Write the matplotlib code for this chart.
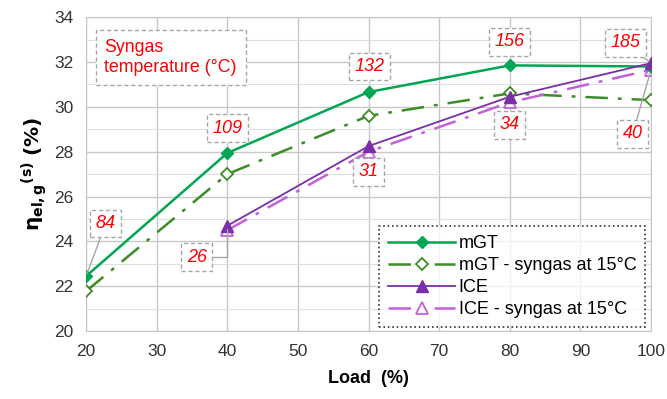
import matplotlib
matplotlib.use("Agg")
import matplotlib.pyplot as plt
from matplotlib.ticker import MultipleLocator

plt.rcParams['font.family'] = ['Liberation Sans', 'DejaVu Sans']

load = [20, 40, 60, 80, 100]
mgt = [22.45, 27.94, 30.66, 31.85, 31.8]
mgt15 = [21.78, 27.0, 29.6, 30.6, 30.3]
ice_load = [40, 60, 80, 100]
ice = [24.7, 28.25, 30.45, 31.95]
ice15 = [24.5, 28.0, 30.2, 31.65]

labels = ["84", "109", "132", "156", "185", "26", "31", "34", "40"]
label_xy = [(22.8, 24.8), (40, 29.05), (60.1, 31.8), (80, 32.9), (96.4, 32.85),
            (35.7, 23.3), (60, 27.1), (80, 29.2), (97.4, 28.8)]
label_target = [(20, 22.45), None, None, None, (100, 31.95),
                (40, 24.7), None, None, (100, 31.65)]

fig = plt.figure(figsize=(6.67, 3.99), dpi=100)
ax = fig.add_axes([0.129, 0.170, 0.847, 0.787])

green = '#00A651'
dgreen = '#3C8C28'
purple = '#7A2EA8'
lpurple = '#C261DA'

ax.plot(load, mgt, color=green, lw=1.8, marker='D', ms=6.5, mfc=green, mec=green,
        label='mGT', zorder=5)
ax.plot(load, mgt15, color=dgreen, lw=1.8, dashes=(9, 4, 1.5, 4), marker='D', ms=6.5,
        mfc='white', mec=dgreen, mew=1.3, label='mGT - syngas at 15°C', zorder=4)
ax.plot(ice_load, ice, color=purple, lw=1.3, marker='^', ms=8.5, mfc=purple, mec=purple,
        label='ICE', zorder=5)
ax.plot(ice_load, ice15, color=lpurple, lw=1.8, dashes=(9, 4, 1.5, 4), marker='^', ms=8.5,
        mfc='white', mec=lpurple, mew=1.3, label='ICE - syngas at 15°C', zorder=4)

bbox = dict(boxstyle='square,pad=0.3', fc='white', ec='#A6A6A6', ls=(0, (3, 2)), lw=1.0)
for t, (x, y), tgt in zip(labels, label_xy, label_target):
    kw = dict(color='red', fontsize=13, style='italic', ha='center', va='center',
              bbox=bbox, zorder=6)
    if tgt is not None:
        if t == "26":
            cs = 'angle,angleA=0,angleB=90,rad=0'
        else:
            cs = 'arc3,rad=0'
        ax.annotate(t, xy=tgt, xytext=(x, y),
                    arrowprops=dict(arrowstyle='-', color='#A6A6A6', lw=1.0,
                                    connectionstyle=cs, shrinkA=0, shrinkB=2), **kw)
    else:
        ax.text(x, y, t, **kw)

ax.text(22.6, 32.2, "Syngas\ntemperature (°C)", color='red', fontsize=12.8, ha='left',
        va='center', linespacing=1.2,
        bbox=dict(boxstyle='square,pad=0.5', fc='white', ec='#A6A6A6', ls=(0, (3, 2)), lw=1.0),
        zorder=6)

ax.set_xlim(20, 100)
ax.set_ylim(20, 34)
ax.xaxis.set_major_locator(MultipleLocator(10))
ax.yaxis.set_major_locator(MultipleLocator(2))
ax.yaxis.set_minor_locator(MultipleLocator(1))
ax.grid(which='major', color='#C8C8C8', lw=1.0)
ax.grid(which='minor', axis='y', color='#E0E0E0', lw=0.8)
ax.set_axisbelow(True)
for s in ax.spines.values():
    s.set_color('#C8C8C8')
ax.tick_params(which='both', length=0, labelsize=12.5, colors='#333333')
ax.tick_params(axis='y', pad=9)
ax.tick_params(axis='x', pad=9)

ax.set_xlabel('Load  (%)', fontsize=13, fontweight='bold', labelpad=8)
ax.set_ylabel(r'$\mathbf{\eta_{el,g}}^{\mathbf{(s)}}$ $\mathbf{(\%)}$', fontsize=14.5, labelpad=4)

leg = ax.legend(loc='lower right', bbox_to_anchor=(0.99, 0.013), borderaxespad=0,
                fontsize=13, frameon=True, fancybox=False, handlelength=3.7,
                handletextpad=0.2, borderpad=0.5, labelspacing=0.28)
leg.get_frame().set_edgecolor('black')
leg.get_frame().set_linestyle(':')
leg.get_frame().set_linewidth(1.2)
leg.set_zorder(7)

fig.savefig('out.png', dpi=100)
